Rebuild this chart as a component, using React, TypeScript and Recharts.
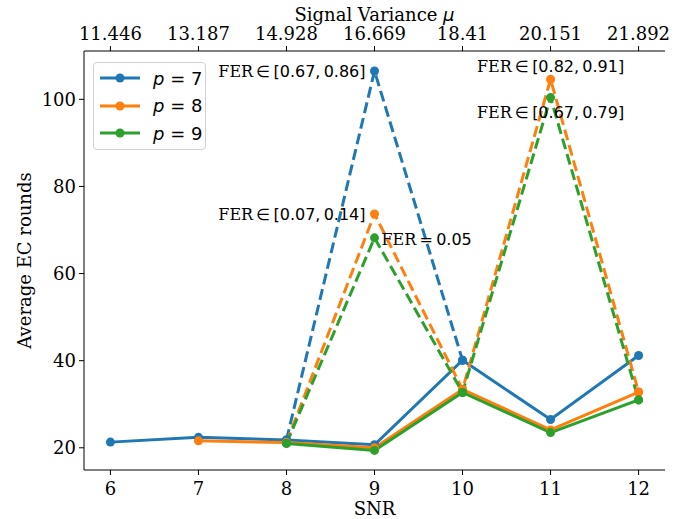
import { ComposedChart, Line, XAxis, YAxis, ReferenceDot } from 'recharts';

// SNR grid and matching signal variance labels for the top axis
const snr = [6, 7, 8, 9, 10, 11, 12];
const muLabels = ['11.446', '13.187', '14.928', '16.669', '18.41', '20.151', '21.892'];

// solid: rounds of successful runs, dashed: including failed frames
const p7 = [21.3, 22.4, 21.8, 20.7, 40.1, 26.5, 41.2];
const p8 = [null, 21.6, 21.2, 20.0, 33.4, 24.1, 32.8];
const p9 = [null, null, 21.0, 19.4, 32.7, 23.5, 31.0];
const p7Dashed = [null, null, 21.8, 106.5, 40.1, null, null];
const p8Dashed = [null, null, 21.2, 73.7, 33.4, 104.6, 32.8];
const p9Dashed = [null, null, 21.0, 68.2, 32.7, 100.4, 31.0];

const ferNotes = [
  { snr: 9, key: 'p7d', rel: '∈', text: '[0.67,\u20090.86]' },
  { snr: 9, key: 'p8d', rel: '∈', text: '[0.07,\u20090.14]' },
  { snr: 9, key: 'p9d', rel: '=', text: '0.05' },
  { snr: 11, key: 'p8d', rel: '∈', text: '[0.82,\u20090.91]' },
  { snr: 11, key: 'p9d', rel: '∈', text: '[0.67,\u20090.79]' },
];
// where each note sits relative to its point
const notePlace = [
  { anchor: 'end', dx: -9, dy: 0 },
  { anchor: 'end', dx: -9, dy: 0 },
  { anchor: 'start', dx: 7, dy: 1 },
  { anchor: 'middle', dx: 0, dy: -13 },
  { anchor: 'middle', dx: 0, dy: 14 },
];

const data = snr.map((s, i) => ({
  snr: s,
  p7: p7[i],
  p8: p8[i],
  p9: p9[i],
  p7d: p7Dashed[i],
  p8d: p8Dashed[i],
  p9d: p9Dashed[i],
}));

const series = [
  { name: '7', solid: 'p7', dashed: 'p7d', color: '#1f77b4' },
  { name: '8', solid: 'p8', dashed: 'p8d', color: '#ff7f0e' },
  { name: '9', solid: 'p9', dashed: 'p9d', color: '#2ca02c' },
];

const serif = 'DejaVu Serif';
const sans = 'DejaVu Sans';
const tick = { fontSize: 18, fill: '#000', fontFamily: serif };

function Note({ viewBox, note, place }: any) {
  const cx = viewBox.x + viewBox.width / 2;
  const cy = viewBox.y + viewBox.height / 2;
  return (
    <text
      x={cx + place.dx}
      y={cy + place.dy}
      textAnchor={place.anchor}
      dominantBaseline="central"
      fontSize={16}
      fill="#000"
    >
      <tspan fontFamily={serif}>FER</tspan>
      <tspan fontFamily={sans}>{'\u2009' + note.rel + '\u2009' + note.text}</tspan>
    </text>
  );
}

function LegendBox() {
  return (
    <div
      style={{
        position: 'absolute',
        left: 93,
        top: 62,
        width: 111,
        height: 86,
        border: '1px solid #d0d0d0',
        borderRadius: 4,
        background: 'rgba(255,255,255,0.8)',
        fontFamily: sans,
        fontSize: 18,
      }}
    >
      {series.map((s, i) => (
        <div key={s.name} style={{ position: 'absolute', left: 5, top: 4 + i * 27.5, height: 22, display: 'flex', alignItems: 'center' }}>
          <svg width={42} height={22}>
            <line x1={1} y1={11} x2={41} y2={11} stroke={s.color} strokeWidth={3} />
            <circle cx={21} cy={11} r={4.5} fill={s.color} />
          </svg>
          <span style={{ marginLeft: 12, whiteSpace: 'nowrap' }}>
            <i>p</i> = {s.name}
          </span>
        </div>
      ))}
    </div>
  );
}

export default function App() {
  return (
    <div style={{ position: 'absolute', left: 0, top: 0, width: 684, height: 519, background: '#fff' }}>
      <ComposedChart width={684} height={519} data={data} margin={{ top: 0, right: 19, bottom: 0, left: 0 }}>
        <XAxis
          dataKey="snr"
          type="number"
          domain={[5.7, 12.3]}
          ticks={snr}
          tick={tick}
          tickSize={5}
          tickMargin={7}
          stroke="#000"
          height={49}
          label={{ value: 'SNR', position: 'insideBottom', offset: 4, fontSize: 18, fill: '#000', fontFamily: serif }}
        />
        <XAxis
          xAxisId="top"
          orientation="top"
          dataKey="snr"
          type="number"
          domain={[5.7, 12.3]}
          ticks={snr}
          tickFormatter={(v: number) => muLabels[snr.indexOf(v)]}
          tick={tick}
          tickSize={5}
          tickMargin={6}
          stroke="#000"
          height={51}
          label={{
            content: ({ viewBox }: any) => (
              <text x={viewBox.x + viewBox.width / 2} y={20.5} textAnchor="middle" fontSize={18} fill="#000">
                <tspan fontFamily={serif}>Signal Variance </tspan>
                <tspan fontFamily={sans} fontStyle="italic">μ</tspan>
              </text>
            ),
          }}
        />
        <YAxis
          type="number"
          domain={[14.9, 111.1]}
          ticks={[20, 40, 60, 80, 100]}
          tick={tick}
          tickSize={5}
          tickMargin={3}
          stroke="#000"
          width={84}
          label={{
            content: ({ viewBox }: any) => (
              <text
                x={24}
                y={viewBox.y + viewBox.height / 2}
                transform={`rotate(-90 24 ${viewBox.y + viewBox.height / 2})`}
                textAnchor="middle"
                dominantBaseline="central"
                fontSize={18}
                fontFamily={serif}
                fill="#000"
              >
                Average EC rounds
              </text>
            ),
          }}
        />
        <YAxis yAxisId="right" orientation="right" domain={[14.9, 111.1]} width={0} tick={false} tickLine={false} stroke="#000" />
        {series.flatMap((s) => [
          <Line
            key={s.solid}
            dataKey={s.solid}
            stroke={s.color}
            strokeWidth={3}
            dot={{ r: 4.5, fill: s.color, stroke: s.color, strokeWidth: 0 }}
            isAnimationActive={false}
          />,
          <Line
            key={s.dashed}
            dataKey={s.dashed}
            stroke={s.color}
            strokeWidth={3}
            strokeDasharray="11 5"
            dot={{ r: 4.5, fill: s.color, stroke: s.color, strokeWidth: 0, strokeDasharray: '0' }}
            isAnimationActive={false}
          />,
        ])}
        {ferNotes.map((n, i) => (
          <ReferenceDot
            key={i}
            x={n.snr}
            y={data[snr.indexOf(n.snr)][n.key as 'p7d']}
            r={1}
            fill="none"
            stroke="none"
            label={{ content: (props: any) => <Note viewBox={props.viewBox} note={n} place={notePlace[i]} /> }}
          />
        ))}
      </ComposedChart>
      <LegendBox />
    </div>
  );
}
